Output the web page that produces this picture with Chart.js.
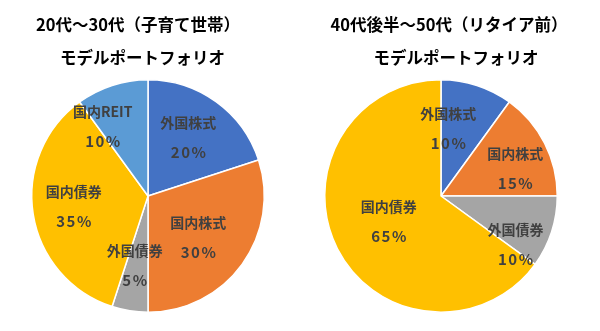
<!DOCTYPE html>
<html>
<head>
<meta charset="utf-8">
<script src="https://cdn.jsdelivr.net/npm/chart.js@4"></script>
<style>
  html, body { margin: 0; padding: 0; background: #ffffff; }
  #wrap { position: relative; width: 600px; height: 331px; overflow: hidden; background: #fff; }
  #left { position: absolute; left: 0; top: 0; }
  #right { position: absolute; left: 300px; top: 0; }
</style>
</head>
<body>
<div id="wrap">
  <canvas id="left" width="300" height="331"></canvas>
  <canvas id="right" width="300" height="331"></canvas>
</div>
<script>
// ---- data ----
const leftTitle = ['20代～30代（子育て世帯）', 'モデルポートフォリオ'];
const leftCategories = ['外国株式', '国内株式', '外国債券', '国内債券', '国内REIT'];
const leftValues = [20, 30, 5, 35, 10];

const rightTitle = ['40代後半～50代（リタイア前）', 'モデルポートフォリオ'];
const rightCategories = ['外国株式', '国内株式', '外国債券', '国内債券'];
const rightValues = [10, 15, 10, 65];

// ---- styles ----
const sliceColors = ['#4472C4', '#ED7D31', '#A5A5A5', '#FFC000', '#5B9BD5'];
const FONT = '"Noto Sans CJK JP", "Noto Sans", sans-serif';
const TEXT_COLOR = '#404040';

const titlePlugin = {
  id: 'fixedTitle',
  afterDraw(chart, args, opts) {
    const ctx = chart.ctx;
    ctx.save();
    ctx.fillStyle = '#000000';
    ctx.font = 'bold 16.5px ' + FONT;
    ctx.textAlign = 'center';
    ctx.textBaseline = 'middle';
    opts.lines.forEach((t, i) => ctx.fillText(t, opts.xs[i], opts.ys[i]));
    ctx.restore();
  }
};

const sliceLabelPlugin = {
  id: 'sliceLabels',
  afterDatasetsDraw(chart, args, opts) {
    const ctx = chart.ctx;
    const meta = chart.getDatasetMeta(0);
    const ds = chart.data.datasets[0];
    const total = ds.data.reduce((a, b) => a + b, 0);
    ctx.save();
    ctx.fillStyle = TEXT_COLOR;
    ctx.textAlign = 'center';
    ctx.textBaseline = 'middle';
    meta.data.forEach((arc, i) => {
      const p = arc.getProps(['x', 'y', 'startAngle', 'endAngle', 'outerRadius'], true);
      const mid = (p.startAngle + p.endAngle) / 2;
      const n = (opts.nudges && opts.nudges[i]) || [0, 0];
      const cx = p.x + Math.cos(mid) * p.outerRadius * opts.factor + n[0];
      const cy = p.y + Math.sin(mid) * p.outerRadius * opts.factor + n[1];
      ctx.font = 'bold 14px ' + FONT;
      ctx.letterSpacing = '0px';
      ctx.fillText(chart.data.labels[i], cx, cy - 15);
      ctx.font = 'bold 15px ' + FONT;
      ctx.letterSpacing = '1.5px';
      ctx.fillText(Math.round(ds.data[i] / total * 100) + '%', cx + 0.75, cy + 15);
    });
    ctx.restore();
  }
};

function makePie(id, labels, values, title, padding, titleXs, factor, nudges) {
  return new Chart(document.getElementById(id), {
    type: 'pie',
    data: {
      labels: labels,
      datasets: [{
        data: values,
        backgroundColor: sliceColors.slice(0, values.length),
        borderColor: '#ffffff',
        borderWidth: 1.5
      }]
    },
    options: {
      responsive: false,
      devicePixelRatio: 1,
      animation: false,
      layout: { padding: padding },
      plugins: {
        legend: { display: false },
        tooltip: { enabled: false },
        title: { display: false },
        fixedTitle: { lines: title, xs: titleXs, ys: [25, 58] },
        sliceLabels: { factor: factor, nudges: nudges }
      }
    },
    plugins: [titlePlugin, sliceLabelPlugin]
  });
}

makePie('left', leftCategories, leftValues, leftTitle,
  { left: 31, right: 35, top: 79, bottom: 18 }, [138, 142.5], 0.62,
  [[-2, 0], [-8, -1], [-2, -2], [-3, -1], [-23, -1]]);
makePie('right', rightCategories, rightValues, rightTitle,
  { left: 24, right: 42, top: 79, bottom: 18 }, [149, 156], 0.62,
  [[-15, 1], [10, 5], [6, 26], [12, -7]]);
</script>
</body>
</html>
